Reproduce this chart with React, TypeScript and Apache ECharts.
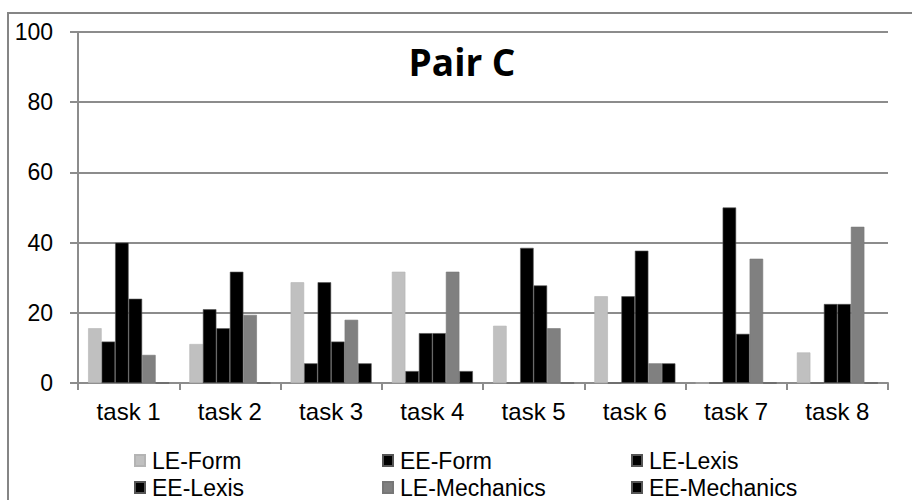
import React, { useEffect, useRef } from "react";
import * as echarts from "echarts";

const categories = ["task 1", "task 2", "task 3", "task 4", "task 5", "task 6", "task 7", "task 8"];
const seriesNames = ["LE-Form", "EE-Form", "LE-Lexis", "EE-Lexis", "LE-Mechanics", "EE-Mechanics"];
const leForm = [15.6, 11.1, 28.7, 31.7, 16.3, 24.7, 0, 8.7];
const eeForm = [11.8, 21, 5.6, 3.4, 0, 0, 0, 0];
const leLexis = [40, 15.6, 28.7, 14.2, 38.5, 24.7, 50, 22.5];
const eeLexis = [24, 31.7, 11.8, 14.2, 27.8, 37.7, 14, 22.5];
const leMechanics = [8, 19.4, 18, 31.7, 15.6, 5.6, 35.4, 44.5];
const eeMechanics = [0, 0, 5.6, 3.4, 0, 5.6, 0, 0];
const yTicks = [0, 20, 40, 60, 80, 100];

const seriesData = [leForm, eeForm, leLexis, eeLexis, leMechanics, eeMechanics];
const colors = ["#c0c0c0", "#000000", "#000000", "#000000", "#808080", "#000000"];
const borders = ["#b4b4b4", "#555555", "#555555", "#555555", "#777777", "#555555"];

const legendPos = [
  { left: 134, top: 449 },
  { left: 382, top: 449 },
  { left: 631, top: 449 },
  { left: 134, top: 476 },
  { left: 382, top: 476 },
  { left: 631, top: 476 },
];

export default function App() {
  const ref = useRef<HTMLDivElement>(null);
  useEffect(() => {
    if (!ref.current) return;
    const chart = echarts.init(ref.current, null, { renderer: "svg" });
    const font = "Liberation Sans, Arial, sans-serif";
    chart.setOption({
      animation: false,
      backgroundColor: "#ffffff",
      textStyle: { fontFamily: font },
      title: {
        text: "Pair C",
        left: 457,
        top: 38,
        textAlign: "center",
        textStyle: { fontFamily: "Open Sans", fontWeight: "bold", fontSize: 37, color: "#000" },
      },
      graphic: [
        {
          type: "rect",
          shape: { x: 8, y: 13, width: 1000, height: 600 },
          style: { fill: "none", stroke: "#858585", lineWidth: 2 },
          silent: true,
        },
      ],
      legend: seriesNames.map((n, i) => ({
        data: [n],
        left: legendPos[i].left,
        top: legendPos[i].top,
        itemWidth: 10,
        itemHeight: 11,
        icon: "rect",
        padding: 0,
        textStyle: { fontFamily: font, fontSize: 23, color: "#000", lineHeight: 22, padding: [0, 0, 0, 2] },
      })),
      grid: { left: 78, right: 24, top: 32, bottom: 117, containLabel: false },
      xAxis: {
        type: "category",
        data: categories,
        axisLine: { lineStyle: { color: "#8c8c8c", width: 2 } },
        axisTick: { show: true, length: 7, lineStyle: { color: "#8c8c8c", width: 2 } },
        axisLabel: { fontFamily: font, fontSize: 24, color: "#000", margin: 16 },
      },
      yAxis: {
        type: "value",
        min: 0,
        max: 100,
        interval: 20,
        axisLine: { show: true, lineStyle: { color: "#8c8c8c", width: 2 } },
        axisTick: { show: true, length: 8, lineStyle: { color: "#8c8c8c", width: 2 } },
        axisLabel: {
          fontFamily: font,
          fontSize: 23,
          color: "#000",
          margin: 25,
          formatter: (v: number) => (yTicks.includes(v) ? String(v) : ""),
        },
        splitLine: { show: true, lineStyle: { color: "#8c8c8c", width: 2 } },
      },
      series: seriesNames.map((n, i) => ({
        name: n,
        type: "bar",
        data: seriesData[i],
        barGap: "0%",
        barCategoryGap: "20%",
        itemStyle: { color: colors[i], borderColor: borders[i], borderWidth: 0.6 },
      })),
    });
    return () => chart.dispose();
  }, []);
  return (
    <div
      ref={ref}
      style={{ position: "fixed", left: 0, top: 0, width: 912, height: 500 }}
    />
  );
}
